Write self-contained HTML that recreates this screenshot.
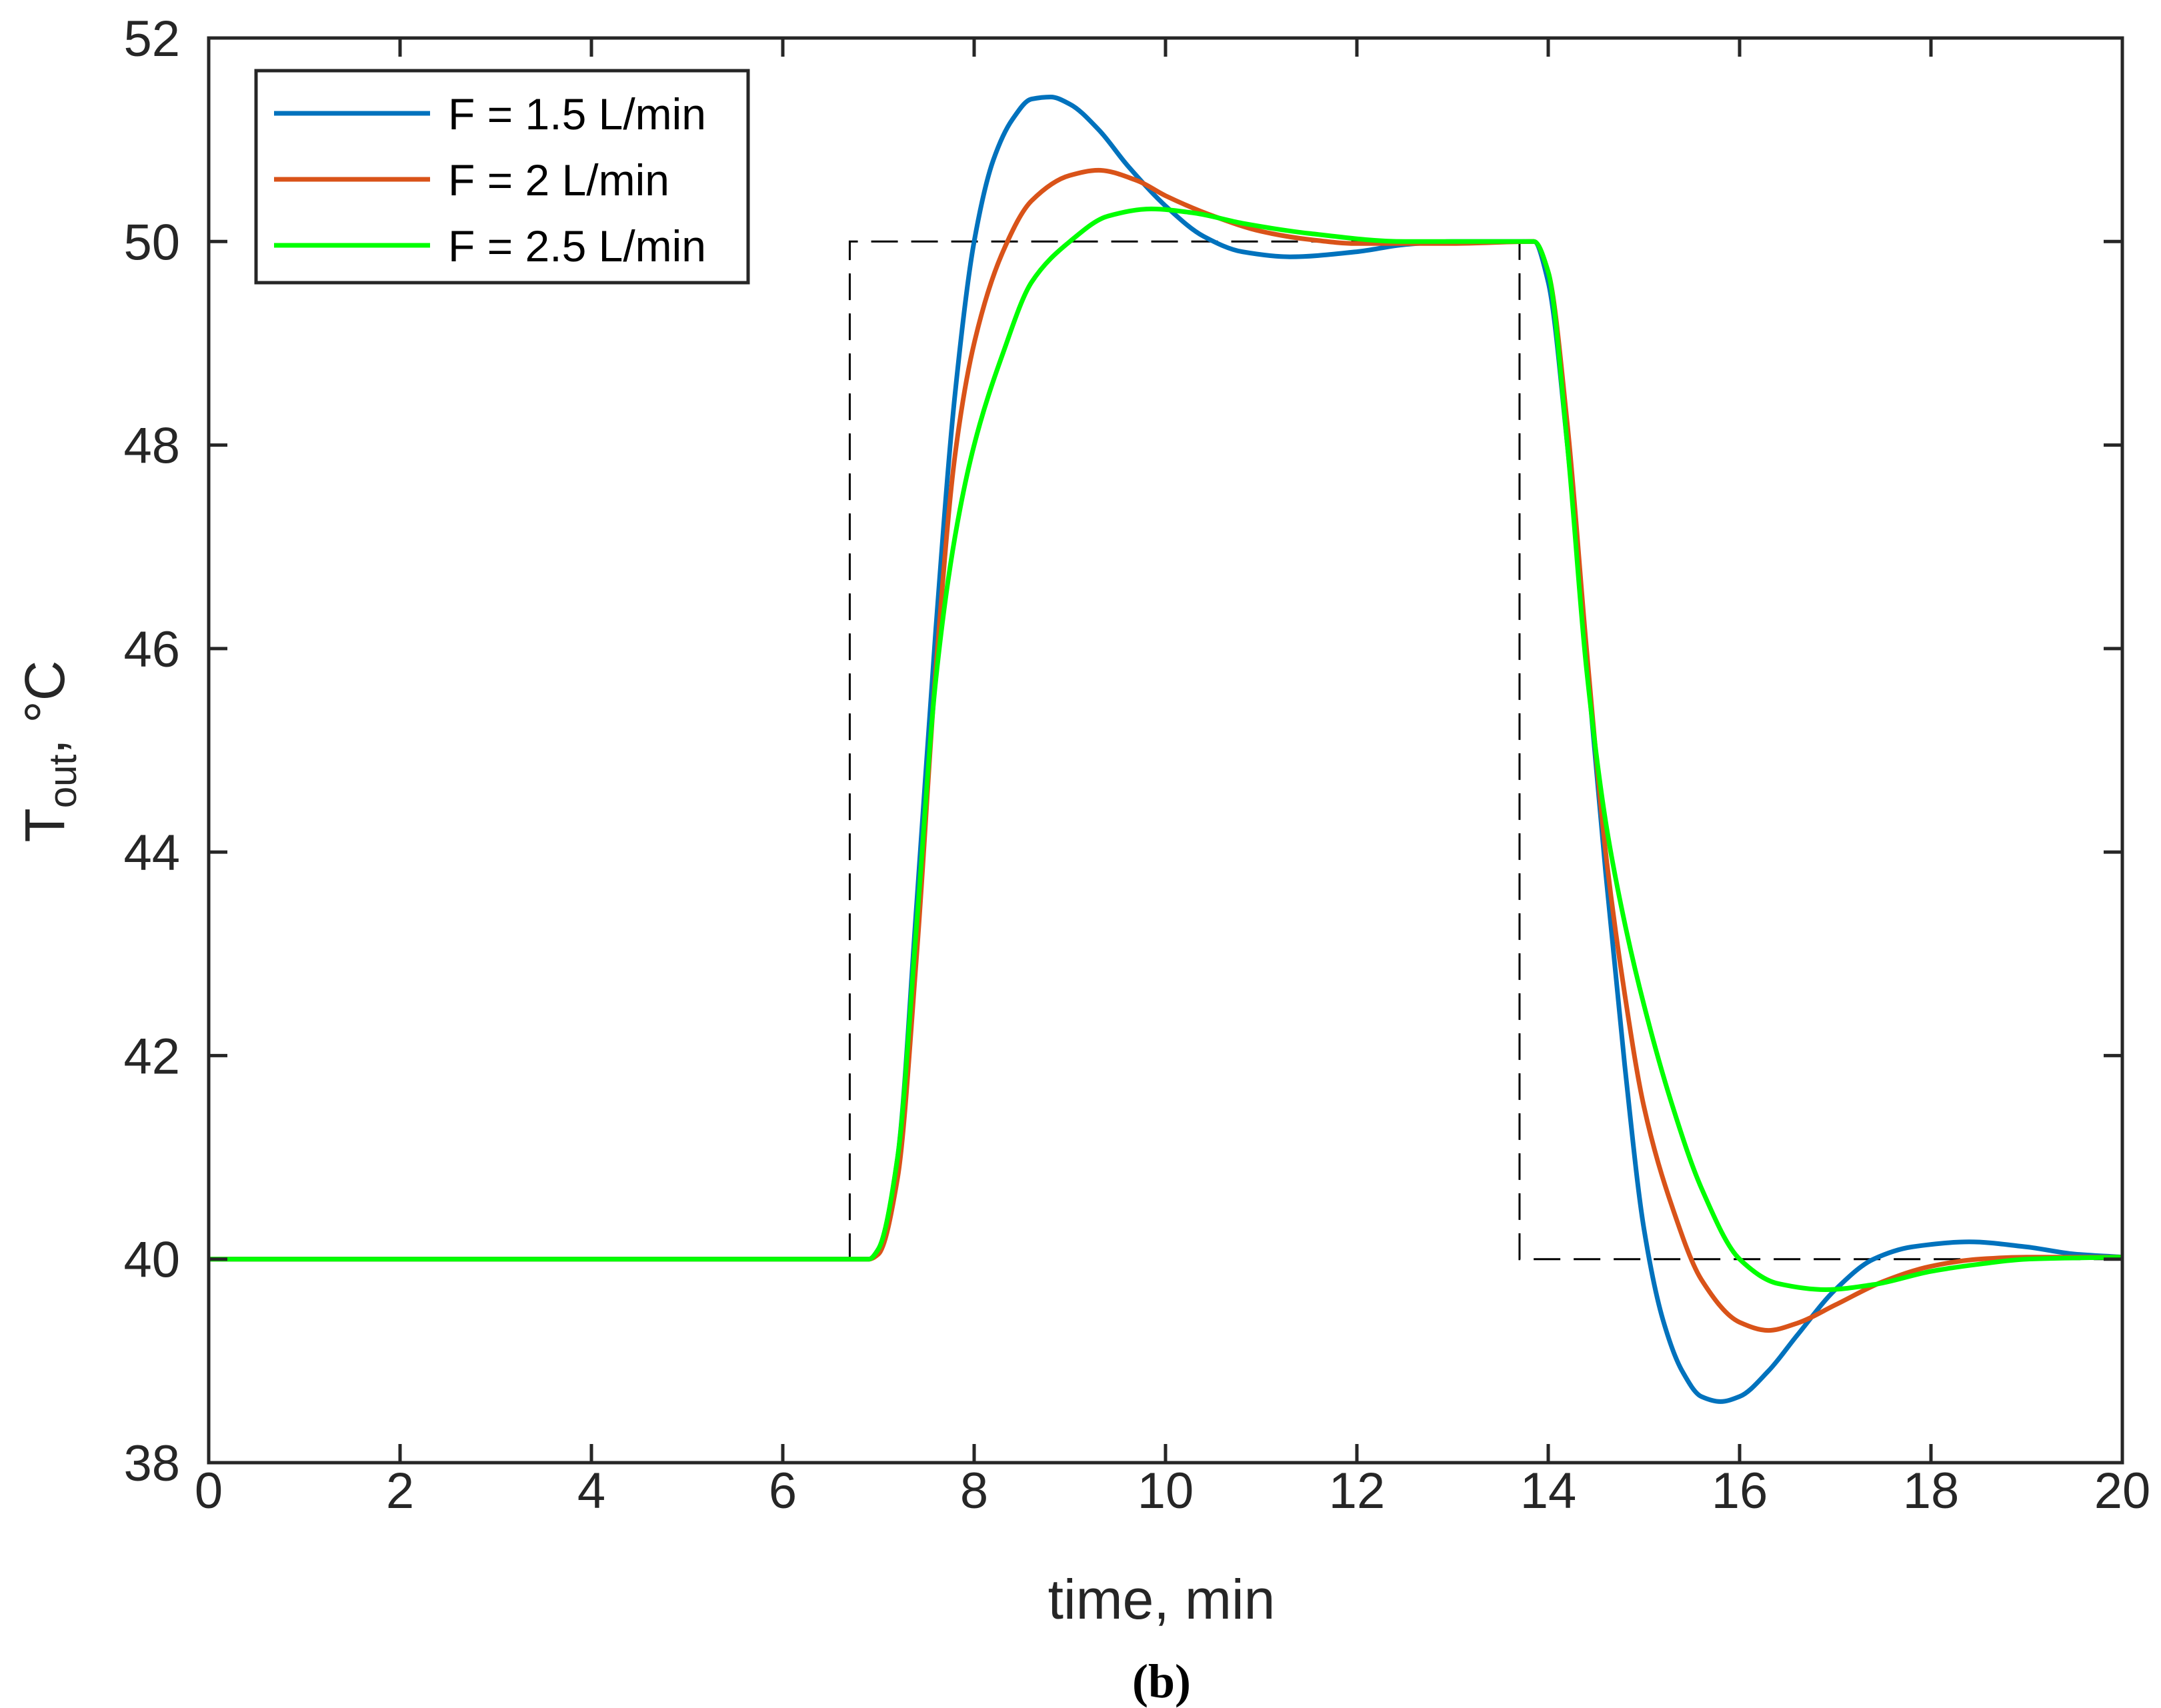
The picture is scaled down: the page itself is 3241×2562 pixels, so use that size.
<!DOCTYPE html>
<html><head><meta charset="utf-8"><style>
html,body{margin:0;padding:0;background:#fff}
svg{display:block}
</style></head><body>
<svg id="chart" width="3241" height="2562" viewBox="0 0 3241 2562" xmlns="http://www.w3.org/2000/svg">
<rect width="3241" height="2562" fill="#fff"/>
<g id="plot"></g>
<g id="axes"></g>
<g>
<rect x="384" y="106" width="738" height="318" fill="#fff" stroke="#262626" stroke-width="5"/>
<line x1="411" y1="170" x2="645" y2="170" stroke="#0072BD" stroke-width="7"/>
<text x="672" y="194" font-family="Liberation Sans, sans-serif" font-size="66" fill="#000">F = 1.5 L/min</text>
<line x1="411" y1="269" x2="645" y2="269" stroke="#D95319" stroke-width="7"/>
<text x="672" y="293" font-family="Liberation Sans, sans-serif" font-size="66" fill="#000">F = 2 L/min</text>
<line x1="411" y1="368" x2="645" y2="368" stroke="#00FF00" stroke-width="7"/>
<text x="672" y="392" font-family="Liberation Sans, sans-serif" font-size="66" fill="#000">F = 2.5 L/min</text>
</g>
<text x="1742" y="2428" text-anchor="middle" font-family="Liberation Sans, sans-serif" font-size="84" fill="#262626">time, min</text>
<text transform="translate(96,1127) rotate(-90)" text-anchor="middle" font-family="Liberation Sans, sans-serif" font-size="84" fill="#262626">T<tspan font-size="58" dy="18">out</tspan><tspan dy="-18">, °C</tspan></text>
<text x="1742" y="2546" text-anchor="middle" font-family="Liberation Serif, serif" font-weight="bold" font-size="72" fill="#000">(b)</text>
</svg>
<script>
const xTicks=[0,2,4,6,8,10,12,14,16,18,20];
const yTicks=[38,40,42,44,46,48,50,52];
const setT=[0,6.7,6.7,13.7,13.7,20];
const setV=[40,40,50,50,40,40];
const blueT=[0,6.9,7.0,7.2,7.4,7.6,7.8,8.0,8.2,8.4,8.6,8.8,9.0,9.3,9.6,10.0,10.4,10.8,11.3,12,12.5,13,13.85,14.0,14.2,14.4,14.6,14.8,15.0,15.2,15.4,15.6,15.8,16.0,16.3,16.6,17.0,17.4,17.8,18.4,19,19.5,20];
const blueV=[40,40,40.1,41.0,43.5,46.2,48.5,50.0,50.8,51.2,51.4,51.42,51.35,51.1,50.75,50.35,50.05,49.9,49.85,49.9,49.97,50.0,50.0,49.6,48.0,45.9,43.8,41.9,40.3,39.4,38.9,38.65,38.6,38.65,38.9,39.25,39.7,40.0,40.12,40.17,40.12,40.05,40.02];
const orangeT=[0,6.9,7.0,7.2,7.4,7.6,7.8,8.0,8.3,8.6,9.0,9.3,9.7,10.0,10.5,11,11.5,12,13,13.85,14.0,14.2,14.4,14.6,14.8,15.0,15.3,15.6,16.0,16.3,16.6,17.0,17.5,18,18.5,19,20];
const orangeV=[40,40,40.05,40.8,43.0,45.8,47.9,49.0,49.9,50.4,50.65,50.7,50.6,50.45,50.25,50.1,50.02,49.98,49.98,50.0,49.7,48.2,46.0,44.0,42.6,41.5,40.5,39.8,39.38,39.3,39.37,39.55,39.78,39.93,40.0,40.02,40.02];
const greenT=[0,6.9,7.0,7.2,7.4,7.6,7.8,8.0,8.3,8.6,9.0,9.4,9.85,10.3,10.8,11.5,12.5,13.85,14.0,14.2,14.4,14.6,14.8,15.0,15.3,15.6,16.0,16.4,16.9,17.4,18,18.5,19,20];
const greenV=[40,40,40.1,41.0,43.3,45.7,47.1,48.0,48.9,49.6,50.0,50.25,50.32,50.28,50.18,50.08,50.0,50.0,49.7,48.0,45.8,44.3,43.3,42.5,41.5,40.7,40.0,39.76,39.7,39.75,39.88,39.95,40.0,40.02];

const L=313,R=3183,T=57,B=2194;
const sx=v=>L+(v-0)/(20-0)*(R-L);
const sy=v=>B-(v-38)/(52-38)*(B-T);
const NS='http://www.w3.org/2000/svg';
const plot=document.getElementById('plot'),axes=document.getElementById('axes');
function mk(tag,attrs,parent){const e=document.createElementNS(NS,tag);for(const k in attrs)e.setAttribute(k,attrs[k]);parent.appendChild(e);return e;}
function monotonePath(ts,vs){
  const n=ts.length,d=[],m=new Array(n);
  for(let i=0;i<n-1;i++)d.push((vs[i+1]-vs[i])/(ts[i+1]-ts[i]));
  m[0]=d[0];m[n-1]=d[n-2];
  for(let i=1;i<n-1;i++){
    if(d[i-1]*d[i]<=0)m[i]=0;
    else{const h0=ts[i]-ts[i-1],h1=ts[i+1]-ts[i];const w1=2*h1+h0,w2=h1+2*h0;m[i]=(w1+w2)/(w1/d[i-1]+w2/d[i]);}
  }
  let path='M'+sx(ts[0]).toFixed(1)+','+sy(vs[0]).toFixed(1);
  for(let i=0;i<n-1;i++){
    const h=ts[i+1]-ts[i];
    const c1t=ts[i]+h/3,c1v=vs[i]+m[i]*h/3;
    const c2t=ts[i+1]-h/3,c2v=vs[i+1]-m[i+1]*h/3;
    path+='C'+sx(c1t).toFixed(1)+','+sy(c1v).toFixed(1)+' '+sx(c2t).toFixed(1)+','+sy(c2v).toFixed(1)+' '+sx(ts[i+1]).toFixed(1)+','+sy(vs[i+1]).toFixed(1);
  }
  return path;
}
let sd='M'+setT.map((t,i)=>sx(t)+','+sy(setV[i])).join('L');
const sp=mk('path',{d:sd,fill:'none',stroke:'#000','stroke-width':3,'stroke-dasharray':'40,20'},plot);


const series=[[blueT,blueV,'#0072BD','series-f15'],[orangeT,orangeV,'#D95319','series-f2'],[greenT,greenV,'#00FF00','series-f25']];
for(const s of series){
  const e=mk('path',{d:monotonePath(s[0],s[1]),fill:'none',stroke:s[2],'stroke-width':7,'stroke-linejoin':'round'},plot);
  
  
}
const box=mk('rect',{x:L,y:T,width:R-L,height:B-T,fill:'none',stroke:'#262626','stroke-width':5},axes);


for(const v of xTicks){
  const x=sx(v);
  const t1=mk('path',{d:`M${x},${B}V${B-28}M${x},${T}V${T+28}`,stroke:'#262626','stroke-width':5},axes);
  
  
  const tx=mk('text',{x:x,y:2262,'text-anchor':'middle','font-family':'Liberation Sans, sans-serif','font-size':76,fill:'#262626'},axes);
  tx.textContent=v;
  
  
}
for(const v of yTicks){
  const y=sy(v);
  const t1=mk('path',{d:`M${L},${y}H${L+28}M${R},${y}H${R-28}`,stroke:'#262626','stroke-width':5},axes);
  
  
  const tx=mk('text',{x:270,y:y+27,'text-anchor':'end','font-family':'Liberation Sans, sans-serif','font-size':76,fill:'#262626'},axes);
  tx.textContent=v;
  
  
}
</script>
</body></html>
